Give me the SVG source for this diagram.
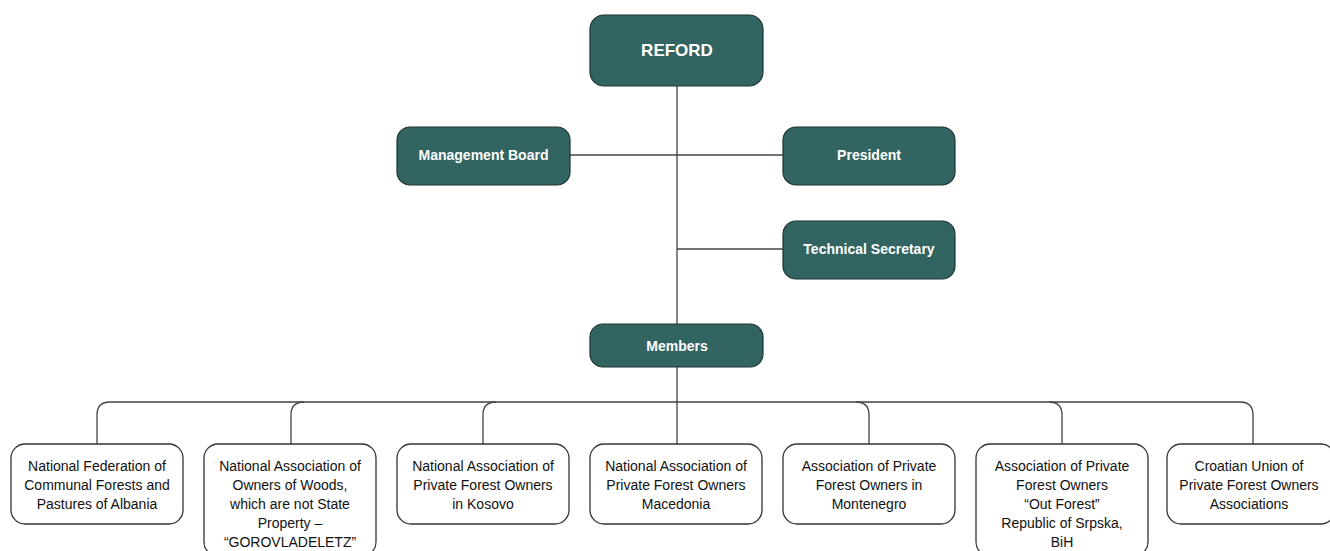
<svg xmlns="http://www.w3.org/2000/svg" width="1330" height="551" viewBox="0 0 1330 551">
<style>
.top{fill:#326462;stroke:#1c3534;stroke-width:1.2}
.mem{fill:#ffffff;stroke:#333333;stroke-width:1.3}
.tw{fill:#ffffff;font-family:"Liberation Sans",Arial,sans-serif;font-weight:bold;text-anchor:middle}
.tb{fill:#111111;font-family:"Liberation Sans",Arial,sans-serif;font-size:14px;text-anchor:middle}
.ln{fill:none;stroke:#444444;stroke-width:1.3}
</style>
<rect width="1330" height="551" fill="#ffffff"/>
<g id="connectors">
<path class="ln" d="M677,86 V324"/>
<path class="ln" d="M570,155 H783"/>
<path class="ln" d="M677,249 H783"/>
<path class="ln" d="M677,367 V444"/>
<path class="ln" d="M97,444 V415 Q97,402 110,402 H1240 Q1253,402 1253,415 V444"/>
<path class="ln" d="M291,444 V415 Q291,402 304,402"/>
<path class="ln" d="M483,444 V415 Q483,402 496,402"/>
<path class="ln" d="M869,444 V415 Q869,402 856,402"/>
<path class="ln" d="M1062,444 V415 Q1062,402 1049,402"/>
</g>
<g id="reford">
<rect class="top" x="590" y="15" width="173" height="71" rx="14"/>
<text class="tw" x="677" y="56" font-size="17">REFORD</text>
</g>
<g id="management-board">
<rect class="top" x="397" y="127" width="173" height="58" rx="13"/>
<text class="tw" x="483.5" y="160" font-size="14">Management Board</text>
</g>
<g id="president">
<rect class="top" x="783" y="127" width="172" height="58" rx="13"/>
<text class="tw" x="869" y="160" font-size="14">President</text>
</g>
<g id="technical-secretary">
<rect class="top" x="783" y="221" width="172" height="58" rx="13"/>
<text class="tw" x="869" y="254" font-size="14">Technical Secretary</text>
</g>
<g id="members">
<rect class="top" x="590" y="324" width="173" height="43" rx="13"/>
<text class="tw" x="677" y="351" font-size="14">Members</text>
</g>
<g id="albania">
<rect class="mem" x="11" y="444" width="172" height="80" rx="14"/>
<text class="tb"><tspan x="97" y="471">National Federation of</tspan><tspan x="97" y="490">Communal Forests and</tspan><tspan x="97" y="509">Pastures of Albania</tspan></text>
</g>
<g id="gorovladeletz">
<rect class="mem" x="204" y="444" width="172" height="112" rx="14"/>
<text class="tb"><tspan x="290" y="471">National Association of</tspan><tspan x="290" y="490">Owners of Woods,</tspan><tspan x="290" y="509">which are not State</tspan><tspan x="290" y="528">Property –</tspan><tspan x="290" y="547">“GOROVLADELETZ”</tspan></text>
</g>
<g id="kosovo">
<rect class="mem" x="397" y="444" width="172" height="80" rx="14"/>
<text class="tb"><tspan x="483" y="471">National Association of</tspan><tspan x="483" y="490">Private Forest Owners</tspan><tspan x="483" y="509">in Kosovo</tspan></text>
</g>
<g id="macedonia">
<rect class="mem" x="590" y="444" width="172" height="80" rx="14"/>
<text class="tb"><tspan x="676" y="471">National Association of</tspan><tspan x="676" y="490">Private Forest Owners</tspan><tspan x="676" y="509">Macedonia</tspan></text>
</g>
<g id="montenegro">
<rect class="mem" x="783" y="444" width="172" height="80" rx="14"/>
<text class="tb"><tspan x="869" y="471">Association of Private</tspan><tspan x="869" y="490">Forest Owners in</tspan><tspan x="869" y="509">Montenegro</tspan></text>
</g>
<g id="srpska">
<rect class="mem" x="976" y="444" width="172" height="112" rx="14"/>
<text class="tb"><tspan x="1062" y="471">Association of Private</tspan><tspan x="1062" y="490">Forest Owners</tspan><tspan x="1062" y="509">“Out Forest”</tspan><tspan x="1062" y="528">Republic of Srpska,</tspan><tspan x="1062" y="547">BiH</tspan></text>
</g>
<g id="croatia">
<rect class="mem" x="1167" y="444" width="168" height="80" rx="14"/>
<text class="tb"><tspan x="1249" y="471">Croatian Union of</tspan><tspan x="1249" y="490">Private Forest Owners</tspan><tspan x="1249" y="509">Associations</tspan></text>
</g>
</svg>
